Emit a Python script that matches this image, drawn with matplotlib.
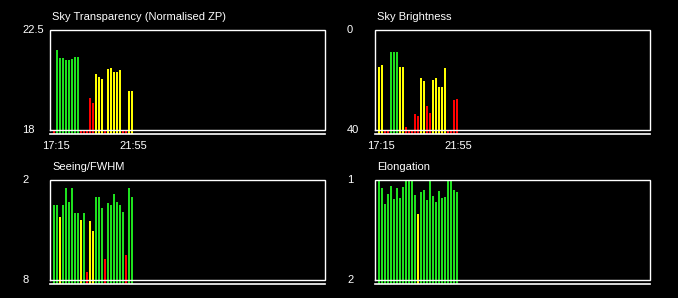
import numpy as np
import matplotlib
matplotlib.use("Agg")
import matplotlib.pyplot as plt

plt.rcParams['font.family'] = ['Liberation Sans', 'DejaVu Sans']

GREEN = '#1ee01e'
YELLOW = '#ffff00'
RED = '#ff0000'
cmap = {'g': GREEN, 'y': YELLOW, 'r': RED}

tick_labels = ['17:15', '21:55']

# Sky transparency (normalised ZP), axis 18 .. 22.5
transp = [18, 21.6, 21.25, 21.25, 21.17, 21.17, 21.21, 21.3, 21.3, 18, 18, 18, 19.46, 19.23,
          20.54, 20.4, 20.31, 18, 20.76, 20.8, 20.63, 20.63, 20.72, 18, 18, 19.77, 19.77]
transp_col = 'rggggggggrrrrryyyryyyyyrryy'

# Sky brightness, axis 40 (bottom) .. 0 (top)
bright = [14.67, 13.87, 40, 40, 8.67, 8.67, 8.67, 14.67, 14.67, 38.67, 40, 40, 33.47, 34.27,
          19.07, 20.27, 30.27, 33.07, 19.87, 19.07, 22.67, 22.67, 15.07, 40, 40, 27.87, 27.47]
bright_col = 'yyrrgggyyrrrrryyrryyyyyrrrr'

# Seeing / FWHM, axis 8 (bottom) .. 2 (top)
seeing = [3.48, 3.48, 4.2, 3.48, 2.46, 3.3, 2.46, 3.96, 3.96, 4.38, 3.96, 7.5, 4.44, 5.04,
          3.0, 3.0, 3.66, 6.72, 3.36, 3.48, 2.82, 3.3, 3.48, 3.9, 6.48, 2.46, 3.0]
seeing_col = 'ggyggggggygryygggrggggggrgg'

# Elongation, axis 2 (bottom) .. 1 (top)
elong = [1.0, 1.077, 1.237, 1.137, 1.057, 1.187, 1.077, 1.177, 1.067, 1.0, 1.0, 1.0, 1.147, 1.337,
         1.117, 1.097, 1.197, 1.0, 1.157, 1.217, 1.107, 1.177, 1.167, 1.0, 1.0, 1.097, 1.117]
elong_col = 'gggggggggggggyggggggggggggg'

panels = [
    ('Sky Transparency (Normalised ZP)', transp, transp_col, 18, 22.5, '18', '22.5', True),
    ('Sky Brightness', bright, bright_col, 40, 0, '40', '0', True),
    ('Seeing/FWHM', seeing, seeing_col, 8, 2, '8', '2', False),
    ('Elongation', elong, elong_col, 2, 1, '2', '1', False),
]

W, H = 678, 298
fig = plt.figure(figsize=(W / 100, H / 100), dpi=100, facecolor='black')

lefts = [50.3, 375.3, 50.3, 375.3]
tops = [30.3, 30.3, 180.3, 180.3]
box_w, box_h, gap = 275, 100, 4

for k, (title, vals, cols, lo, hi, lo_lab, hi_lab, show_x) in enumerate(panels):
    ax = fig.add_axes([lefts[k] / W, (H - tops[k] - box_h - gap) / H,
                       box_w / W, (box_h + gap) / H])
    ax.set_facecolor('black')
    for s in ax.spines.values():
        s.set_visible(False)
    ax.set_xticks([])
    ax.set_yticks([])

    base = lo - (hi - lo) * gap / box_h
    x0 = -1.23
    x1 = x0 + box_w / 3
    ax.set_xlim(x0, x1)
    ax.set_ylim(base, hi)

    x = np.arange(len(vals))
    v = np.array(vals, dtype=float)
    ax.bar(x, v - base, bottom=base, width=0.67, color=[cmap[c] for c in cols],
           linewidth=0, antialiased=False)

    # box and base line
    ax.plot([x0, x1, x1, x0, x0], [lo, lo, hi, hi, lo], color='white', lw=1.0,
            clip_on=False, solid_joinstyle='miter')
    ax.plot([x0, x1], [base, base], color='white', lw=1.2, clip_on=False)

    ax.text(0.007, 1 + 13.6 / (box_h + gap), title, transform=ax.transAxes,
            color='white', fontsize=8, ha='left', va='center')
    ax.text(-28.3 / box_w, hi, hi_lab, transform=ax.get_yaxis_transform(),
            color='white', fontsize=8, ha='left', va='center')
    ax.text(-28.3 / box_w, lo, lo_lab, transform=ax.get_yaxis_transform(),
            color='white', fontsize=8, ha='left', va='center')
    if show_x:
        for pos, lab in zip([0.5, 26.45], tick_labels):
            ax.text(pos, -11.4 / (box_h + gap), lab, transform=ax.get_xaxis_transform(),
                    color='white', fontsize=8, ha='center', va='center')

fig.savefig('out.png', dpi=100, facecolor='black')
